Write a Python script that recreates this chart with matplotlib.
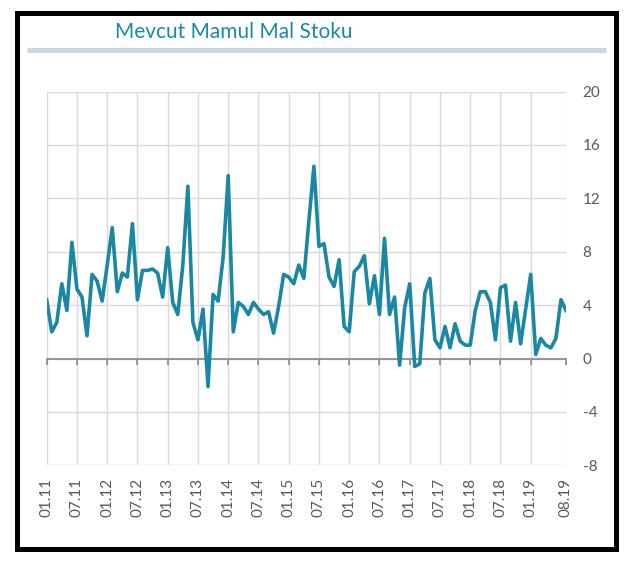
"""
Mevcut Mamul Mal Stoku - line chart
"""
import matplotlib
matplotlib.use('Agg')
import matplotlib.pyplot as plt
from matplotlib.patches import Rectangle
from matplotlib.lines import Line2D

# ==========================================
# DATA (monthly, 01.11 - 08.19)
# ==========================================
TITLE = 'Mevcut Mamul Mal Stoku'

stock = [
    4.4, 2.0, 2.7, 5.6, 3.6, 8.7, 5.2, 4.6, 1.7, 6.3, 5.8, 4.3,      # 2011
    7.0, 9.8, 5.0, 6.4, 6.1, 10.1, 4.4, 6.6, 6.6, 6.7, 6.4, 4.6,     # 2012
    8.3, 4.2, 3.3, 7.0, 12.9, 2.7, 1.4, 3.7, -2.1, 4.8, 4.3, 7.6,    # 2013
    13.7, 2.0, 4.2, 3.9, 3.3, 4.2, 3.7, 3.3, 3.5, 1.9, 3.9, 6.3,     # 2014
    6.1, 5.6, 7.0, 6.0, 10.3, 14.4, 8.4, 8.6, 6.1, 5.4, 7.4, 2.4,    # 2015
    2.0, 6.5, 6.9, 7.7, 4.1, 6.2, 3.3, 9.0, 3.3, 4.6, -0.5, 3.8,     # 2016
    5.6, -0.6, -0.4, 4.9, 6.0, 1.4, 0.8, 2.4, 0.8, 2.6, 1.3, 1.0,    # 2017
    1.0, 3.6, 5.0, 5.0, 4.2, 1.4, 5.3, 5.5, 1.3, 4.2, 1.1, 3.7,      # 2018
    6.3, 0.3, 1.5, 1.0, 0.8, 1.5, 4.4, 3.6,                          # 2019
]

tick_idx = [0, 6, 12, 18, 24, 30, 36, 42, 48, 54, 60, 66, 72, 78, 84, 90, 96, 103]
tick_labels = ['01.11', '07.11', '01.12', '07.12', '01.13', '07.13', '01.14', '07.14',
               '01.15', '07.15', '01.16', '07.16', '01.17', '07.17', '01.18', '07.18',
               '01.19', '08.19']
y_ticks = [-8, -4, 0, 4, 8, 12, 16, 20]

# ==========================================
# STYLE
# ==========================================
W, H = 640, 575
LINE_COLOR = '#1a87a3'
TITLE_COLOR = '#1b8aa6'
GRID_COLOR = '#d9d9d9'
TEXT_COLOR = '#595959'
FONT = ['Lato', 'DejaVu Sans']

plt.rcParams['font.family'] = FONT
plt.rcParams['axes.unicode_minus'] = False  # plain hyphen like the original

fig = plt.figure(figsize=(W / 100, H / 100), dpi=100)

# plot area in pixels (left, right, top, bottom)
L, R, T, B = 46.7, 566, 91.5, 465.3
ax = fig.add_axes([L / W, 1 - B / H, (R - L) / W, (B - T) / H])

x = list(range(len(stock)))
ax.plot(x, stock, color=LINE_COLOR, lw=2.6, solid_joinstyle='round', zorder=3)

ax.set_xlim(0, len(stock) - 1)
ax.set_ylim(-8, 20)

# gridlines
ax.set_yticks(y_ticks)
ax.set_xticks(tick_idx)
ax.grid(True, color=GRID_COLOR, lw=1.0, zorder=0)

for s in ['top', 'right', 'left']:
    ax.spines[s].set_visible(False)

# zero axis line with small ticks
ax.spines['bottom'].set_position(('data', 0))
ax.spines['bottom'].set_color('#868686')
ax.spines['bottom'].set_linewidth(1.2)
ax.spines['bottom'].set_zorder(2)
ax.tick_params(axis='x', direction='out', length=4, width=1.2, color='#868686',
               labelbottom=False)
ax.tick_params(axis='y', length=0, labelleft=False, labelright=True, pad=12,
               labelsize=11, labelcolor=TEXT_COLOR)

# date labels at the bottom of the plot area
sec = ax.secondary_xaxis('bottom')
sec.set_xticks(tick_idx)
sec.set_xticklabels(tick_labels, rotation=90, fontsize=11, color=TEXT_COLOR)
sec.tick_params(length=0, pad=9)
sec.spines['bottom'].set_visible(False)

# ==========================================
# TITLE + FRAME
# ==========================================
fig.text(115 / W, 1 - 32 / H, TITLE, color=TITLE_COLOR, fontsize=15,
         ha='left', va='center')
fig.add_artist(Line2D([27 / W, 606 / W], [1 - 50 / H, 1 - 50 / H],
                      color='#cdd6e3', lw=3.8, solid_capstyle='butt'))
fig.add_artist(Rectangle((16.5 / W, 1 - 549 / H), (616 - 16.5) / W, (549 - 12.5) / H,
                         fill=False, edgecolor='black', lw=3.6))

fig.savefig('out.png', dpi=100)
